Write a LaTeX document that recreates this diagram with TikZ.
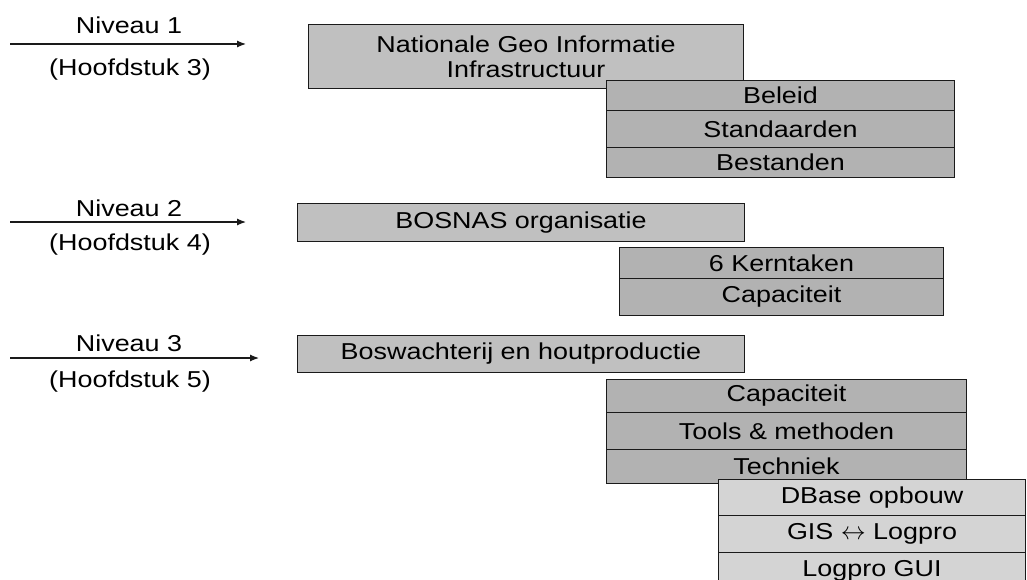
\documentclass[tikz,border=0pt]{standalone}
\usepackage{fontspec}
\setmainfont{Liberation Sans}[FakeStretch=1.17]
\usetikzlibrary{arrows.meta, positioning}
\definecolor{LevelGray}{HTML}{C0C0C0}
\definecolor{StackGray}{HTML}{B2B2B2}
\definecolor{PaleGray}{HTML}{D4D4D4}
\definecolor{EdgeInk}{HTML}{1A1A1A}
\tikzset{
  levelbox/.style={draw=EdgeInk, fill=LevelGray, line width=1pt, inner sep=0pt, anchor=north west},
  stackbox/.style={draw=EdgeInk, fill=StackGray, line width=1pt, inner sep=0pt, anchor=north west},
  palebox/.style={draw=EdgeInk, fill=PaleGray, line width=1pt, inner sep=0pt, anchor=north west}
}

\begin{document}
\begin{tikzpicture}[x=1pt, y=-1pt, font=\fontsize{23}{25}\selectfont]
  \useasboundingbox (0,0) rectangle (1027,580);
  % level markers on the left
  \foreach \n/\h/\y/\e/\ta/\tb in {1/3/44/246/25/70, 2/4/222/246/208/245, 3/5/358/259/343/382}{
    \coordinate (from\n) at (10,\y);
    \coordinate (to\n) at (\e,\y);
    \draw[-{Latex[length=9pt,width=7pt]}, EdgeInk, line width=1.2pt] (from\n) -- (to\n);
    \node[inner sep=0pt] (niv\n) at (129,\ta) {Niveau \n};
    \node[inner sep=0pt] (hfd\n) at (130,\tb) {(Hoofdstuk \h)};
  }
  % niveau 1
  \node[levelbox, align=center, minimum width=435pt, minimum height=64pt] (ngii) at (308,24)
    {Nationale Geo Informatie\\Infrastructuur};
  \foreach \t/\y/\h [count=\i] in {Beleid/80/30, Standaarden/110/37, Bestanden/147/30}{
    \node[stackbox, minimum width=348pt, minimum height=\h pt] (rowa\i) at (606,\y) {\t};
  }
  % niveau 2
  \node[levelbox, minimum width=447pt, minimum height=38pt] (bosnas) at (297,203) {BOSNAS organisatie};
  \foreach \t/\y/\h [count=\i] in {6 Kerntaken/247/31, Capaciteit/278/37}{
    \node[stackbox, minimum width=324pt, minimum height=\h pt] (rowb\i) at (619,\y) {\t};
  }
  % niveau 3
  \node[levelbox, minimum width=447pt, minimum height=37pt] (bosw) at (297,335) {Boswachterij en houtproductie};
  \foreach \t/\y/\h [count=\i] in {Capaciteit/379/33, Tools \& methoden/412/37, Techniek/449/34}{
    \node[stackbox, minimum width=360pt, minimum height=\h pt] (rowc\i) at (606,\y) {\t};
  }
  \foreach \t/\y/\h [count=\i] in {DBase opbouw/479/36, GIS $\leftrightarrow$ Logpro/515/37, Logpro GUI/552/37}{
    \node[palebox, minimum width=307pt, minimum height=\h pt] (rowd\i) at (718,\y) {\t};
  }
\end{tikzpicture}
\end{document}
